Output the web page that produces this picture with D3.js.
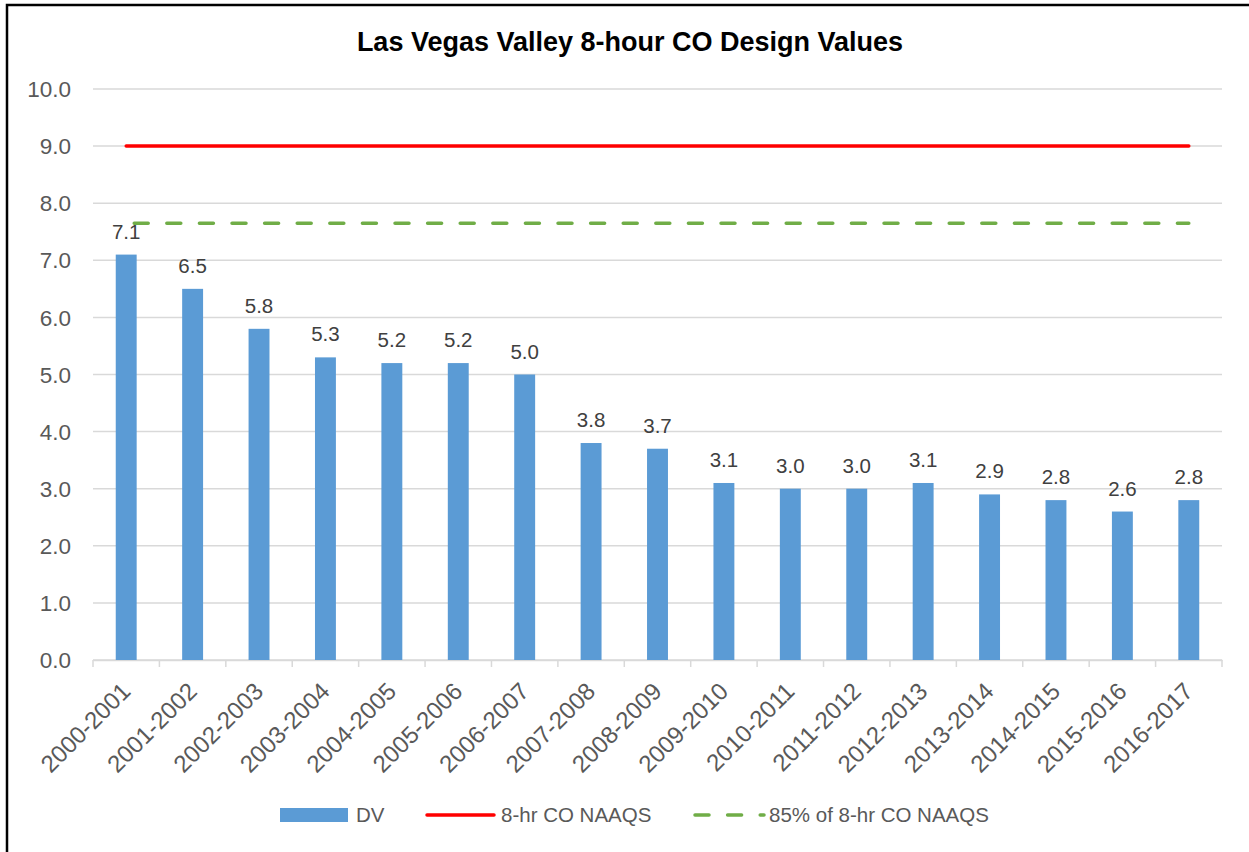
<!DOCTYPE html>
<html>
<head>
<meta charset="utf-8">
<script src="https://cdn.jsdelivr.net/npm/d3@7"></script>
<style>
  body { margin: 0; background: #fff; }
  svg { display: block; font-family: "Liberation Sans", Arial, sans-serif; }
</style>
</head>
<body>
<div id="chart"></div>
<script>
let seasons = [
  "2000-2001", "2001-2002", "2002-2003", "2003-2004", "2004-2005", "2005-2006",
  "2006-2007", "2007-2008", "2008-2009", "2009-2010", "2010-2011", "2011-2012",
  "2012-2013", "2013-2014", "2014-2015", "2015-2016", "2016-2017"
];
let dv = [7.1, 6.5, 5.8, 5.3, 5.2, 5.2, 5.0, 3.8, 3.7, 3.1, 3.0, 3.0, 3.1, 2.9, 2.8, 2.6, 2.8];
let naaqs = 9.0;
let naaqs85 = 7.65;
let yTicks = [0, 1, 2, 3, 4, 5, 6, 7, 8, 9, 10];
let legendLabels = ["DV", "8-hr CO NAAQS", "85% of 8-hr CO NAAQS"];

let width = 1249;
let height = 852;
let margin = { top: 89, right: 27, bottom: 192, left: 93 };

let svg = d3.select("#chart").append("svg")
  .attr("width", width)
  .attr("height", height);

// outer frame (cropped on right/bottom like the original)
svg.append("rect")
  .attr("x", 7).attr("y", 5)
  .attr("width", width + 20).attr("height", height + 20)
  .attr("fill", "#fff")
  .attr("stroke", "#000")
  .attr("stroke-width", 2.5);

let x = d3.scaleBand()
  .domain(seasons)
  .range([margin.left, width - margin.right])
  .paddingInner(0.685)
  .paddingOuter(0.3425);

let y = d3.scaleLinear()
  .domain([0, 10])
  .range([height - margin.bottom, margin.top]);

let fmt = d3.format(".1f");

// gridlines
svg.append("g")
  .selectAll("line")
  .data(yTicks)
  .enter()
  .append("line")
  .attr("x1", margin.left)
  .attr("x2", width - margin.right)
  .attr("y1", d => y(d))
  .attr("y2", d => y(d))
  .attr("stroke", "#d9d9d9")
  .attr("stroke-width", 1.5);

// y labels
svg.append("g")
  .selectAll("text")
  .data(yTicks)
  .enter()
  .append("text")
  .attr("x", margin.left - 22)
  .attr("y", d => y(d))
  .attr("dy", "0.36em")
  .attr("text-anchor", "end")
  .attr("font-size", 22.5)
  .attr("fill", "#595959")
  .text(d => fmt(d));

// x axis with ticks at category boundaries
let xAxis = d3.axisBottom(x).tickSize(0).tickFormat("");
let gx = svg.append("g")
  .attr("transform", `translate(0,${y(0)})`)
  .call(xAxis);
gx.select(".domain").attr("stroke", "#d9d9d9").attr("stroke-width", 1.5);

let step = x.step();
let bounds = d3.range(seasons.length + 1).map(i => margin.left + i * step);
gx.selectAll(".bound")
  .data(bounds)
  .enter()
  .append("line")
  .attr("class", "bound")
  .attr("x1", d => d).attr("x2", d => d)
  .attr("y1", 0).attr("y2", 7)
  .attr("stroke", "#d9d9d9")
  .attr("stroke-width", 1.5);

// bars
svg.append("g")
  .selectAll("rect")
  .data(dv)
  .enter()
  .append("rect")
  .attr("x", (d, i) => x(seasons[i]))
  .attr("y", d => y(d))
  .attr("width", x.bandwidth())
  .attr("height", d => y(0) - y(d))
  .attr("fill", "#5b9bd5");

// value labels
svg.append("g")
  .selectAll("text")
  .data(dv)
  .enter()
  .append("text")
  .attr("x", (d, i) => x(seasons[i]) + x.bandwidth() / 2)
  .attr("y", d => y(d) - 16)
  .attr("text-anchor", "middle")
  .attr("font-size", 20.5)
  .attr("fill", "#404040")
  .text(d => fmt(d));

// reference lines
let cx0 = x(seasons[0]) + x.bandwidth() / 2;
let cx1 = x(seasons[seasons.length - 1]) + x.bandwidth() / 2;

svg.append("line")
  .attr("x1", cx0).attr("x2", cx1)
  .attr("y1", y(naaqs)).attr("y2", y(naaqs))
  .attr("stroke", "#ff0000")
  .attr("stroke-width", 3.5)
  .attr("stroke-linecap", "round");

svg.append("line")
  .attr("x1", cx0 + 8).attr("x2", cx1)
  .attr("y1", y(naaqs85)).attr("y2", y(naaqs85))
  .attr("stroke", "#70ad47")
  .attr("stroke-width", 3.5)
  .attr("stroke-linecap", "round")
  .attr("stroke-dasharray", "14,18.6");

// x labels, rotated
svg.append("g")
  .selectAll("text")
  .data(seasons)
  .enter()
  .append("text")
  .attr("transform", d => `translate(${x(d) + x.bandwidth() / 2 - 7},${y(0) + 20}) rotate(-45)`)
  .attr("dy", "0.75em")
  .attr("text-anchor", "end")
  .attr("font-size", 24)
  .attr("fill", "#595959")
  .text(d => d);

// title
svg.append("text")
  .attr("x", 630)
  .attr("y", 51)
  .attr("text-anchor", "middle")
  .attr("font-size", 27)
  .attr("font-weight", "bold")
  .attr("fill", "#000")
  .text("Las Vegas Valley 8-hour CO Design Values");

// legend
let leg = svg.append("g").attr("transform", "translate(0,815)");
leg.append("rect")
  .attr("x", 280).attr("y", -7)
  .attr("width", 68).attr("height", 14)
  .attr("fill", "#5b9bd5");
leg.append("line")
  .attr("x1", 427).attr("x2", 494)
  .attr("y1", 0).attr("y2", 0)
  .attr("stroke", "#ff0000")
  .attr("stroke-width", 3.5)
  .attr("stroke-linecap", "round");
leg.append("line")
  .attr("x1", 695).attr("x2", 764)
  .attr("y1", 0).attr("y2", 0)
  .attr("stroke", "#70ad47")
  .attr("stroke-width", 3.5)
  .attr("stroke-linecap", "round")
  .attr("stroke-dasharray", "14,18.6");

let legX = [356, 501, 769];
leg.selectAll("text.lab")
  .data(legendLabels)
  .enter()
  .append("text")
  .attr("class", "lab")
  .attr("x", (d, i) => legX[i])
  .attr("dy", "0.36em")
  .attr("font-size", 20.5)
  .attr("fill", "#595959")
  .text(d => d);
</script>
</body>
</html>
